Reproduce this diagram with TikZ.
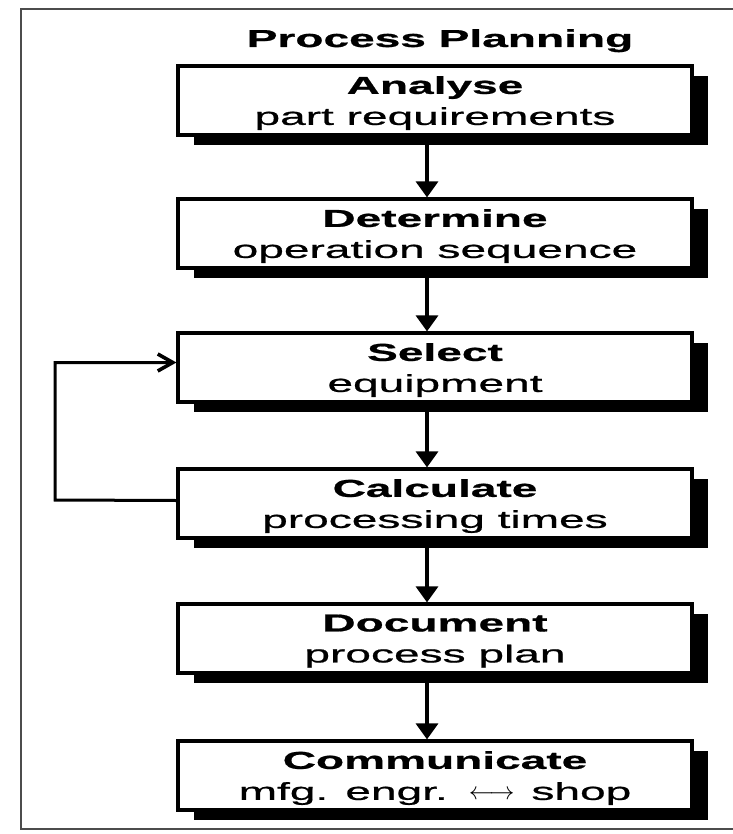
\documentclass[tikz,border=0pt]{standalone}
\usepackage{fontspec}
\setmainfont{Liberation Sans}[FakeStretch=1.88, FakeBold=0.8]
\usetikzlibrary{arrows.meta,shadows}
\begin{document}
\begin{tikzpicture}[x=1pt,y=-1pt,
  stepbox/.style={draw=black, line width=3.2pt, fill=white,
    minimum width=514pt, minimum height=69pt, inner sep=0pt,
    align=center, text depth=-4pt,
    font=\fontsize{24.5}{31}\selectfont,
    drop shadow={shadow xshift=16pt, shadow yshift=-10pt, fill=black, opacity=1}},
  flow/.style={line width=3.4pt, -{Triangle[length=16pt,width=22pt]}},
  back/.style={line width=3pt, -{Straight Barb[length=15pt,width=17pt,line width=3.6pt]}},
  heading/.style={font=\fontsize{24.5}{31}\selectfont\bfseries, inner sep=0pt}]
  \useasboundingbox (0,0) rectangle (732,834);
  \fill[white] (0,0) rectangle (732,834);

  % outer frame, open on the right
  \draw[black!70, line width=2.6pt] (745,9) -- (21,9) -- (21,829) -- (745,829);

  \node[heading, anchor=base] (title) at (440,47) {Process Planning};

  \node[stepbox] (analyse)   at (435,100.5) {\textbf{Analyse}\\part requirements};
  \node[stepbox] (determine) at (435,233.5) {\textbf{Determine}\\operation sequence};
  \node[stepbox] (select)    at (435,367.5) {\textbf{Select}\\equipment};
  \node[stepbox] (calculate) at (435,503.5) {\textbf{Calculate}\\processing times};
  \node[stepbox] (document)  at (435,638.5) {\textbf{Document}\\process plan};
  \node[stepbox] (communicate) at (435,775.5)
    {\textbf{Communicate}\\mfg. engr. \,$\longleftrightarrow$\, shop};

  % main sequence
  \draw[flow] ([xshift=-8pt]analyse.south)   -- ([xshift=-8pt]determine.north);
  \draw[flow] ([xshift=-8pt]determine.south) -- ([xshift=-8pt]select.north);
  \draw[flow] ([xshift=-8pt]select.south)    -- ([xshift=-8pt]calculate.north);
  \draw[flow] ([xshift=-8pt]calculate.south) -- ([xshift=-8pt]document.north);
  \draw[flow] ([xshift=-8pt]document.south)  -- ([xshift=-8pt]communicate.north);

  % iteration loop back to equipment selection
  \coordinate (loop) at (55,500);
  \draw[back] ([yshift=3pt]calculate.west) -- (loop) |- ([yshift=5pt]select.west);
\end{tikzpicture}
\end{document}
